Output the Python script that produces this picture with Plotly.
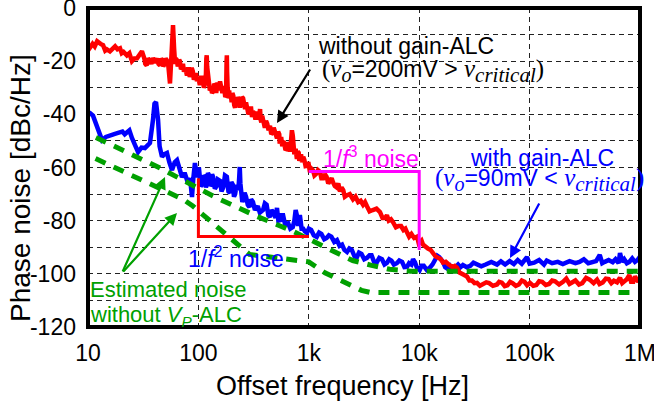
import plotly.graph_objects as go

# ---------------- data ----------------
red_f = [10, 10.4, 11, 11.5, 12.1, 13, 13.7, 14.3, 14.8, 15.8, 16.7, 17.6, 18.5, 19.5, 20.2, 21, 22.5, 23.7,
         25, 26.3, 27.8, 29, 30.8, 32.4, 33, 34, 35, 36, 37.5, 38.8, 40, 41, 42.5, 43.5, 44.9, 46, 47, 48,
         49.5, 50.5, 51.9, 53.5, 55.3, 56.5, 57.5, 58.9, 60.2, 61.5,
         62.5, 64, 65, 66, 67, 68, 69.5, 71, 72.5, 74, 76, 78.8, 80.5, 82, 83.5, 85, 87, 89, 91, 93, 95, 97,
         100, 103, 104.5, 106, 108, 110, 112, 114, 116, 117, 118, 119, 120, 121, 123, 125, 127, 130, 133,
         136, 139, 142, 145, 149, 153, 157, 161, 165, 168, 172, 175, 178, 180, 181, 182, 184, 188, 190, 193,
         197, 200, 203, 207, 211, 215, 219, 223, 228, 233, 238, 243, 248, 254, 259, 265, 270, 276, 284, 292,
         299, 306, 313, 320, 329, 338, 344, 350, 356, 362, 366, 372, 378, 385, 392, 400, 410, 420, 432, 445,
         457, 470, 481, 493, 504, 515, 527, 540, 545, 550, 562, 575, 588, 600, 615, 630, 645, 660, 675, 690,
         703, 716, 728, 740, 760, 780, 795, 810, 820, 830, 850, 870, 890, 910, 935, 960, 990, 1025,
         1060, 1090, 1125, 1160, 1210, 1262, 1300, 1350, 1400, 1450, 1500, 1560, 1610, 1656, 1720, 1790,
         1850, 1918, 1980, 2050, 2120, 2200, 2350, 2514, 2650, 2800, 2950, 3100, 3230, 3365, 3550, 3800,
         4100, 4413, 4650, 4900, 5100, 5300, 5550, 5793, 6150, 6500, 6850, 7200, 7500, 7755, 8100, 8500,
         9000, 9557, 9900, 10200, 10500, 10820, 11400, 12000, 12700, 13330, 14100, 15000, 15700, 16430,
         17400, 18500, 19300, 20000, 21000, 21990, 23200, 24500, 25800, 27090, 28500, 30000, 31700, 33400,
         35500, 38000, 40500, 43000, 46500, 50700, 53000, 56000, 59500, 63000, 66500, 70000, 75000, 80000,
         85000, 90000, 95000, 100900, 108000, 115000, 122000, 130000, 140000, 150000, 160000, 170000,
         185000, 201000, 215000, 230000, 245000, 260000, 280000, 300000, 325000, 350000, 380000, 408000,
         430000, 460000, 490000, 520000, 550000, 580000, 620000, 659000, 690000, 720000, 760000, 800000,
         830000, 870000, 900000, 930000, 965000, 1000000]
red_db = [-16, -15, -13.5, -14.5, -12.5, -13.5, -14, -16, -15.5, -16.3, -15.2, -14.4, -15.5, -15.1, -17, -16.5,
          -17.8, -17, -20, -19, -18.9, -17.5, -16.3, -19, -21, -21.6, -19, -19.5, -21, -18.9, -20, -20.5, -19,
          -21, -21.6, -19, -19.5, -22, -21, -19, -19.7, -22, -28.4, -22, -14, -6.4, -15, -21,
          -19, -19.7, -22, -21, -19.5, -20, -23, -22.5, -21, -24, -22.5, -25.4, -23, -23, -26, -25, -22.5,
          -23.8, -27, -26, -24.5, -27.5,
          -26, -29, -26.5, -25.5, -28.5, -26.5, -30, -29, -26, -25, -19, -17.8, -22, -24, -28, -27.6, -31,
          -30, -32, -31.4, -28.5, -29, -32, -28, -31, -27.6, -31.5, -32, -29.5, -30.5, -33.5, -33, -20, -17.8,
          -24, -30, -34, -31, -34, -33, -35.5, -32, -33, -36.5, -37.5, -35, -36.7, -33.5, -34.5, -37.5, -36,
          -33.5, -34, -37.5, -38, -35.5, -37, -40, -39, -37, -41, -39, -39.5, -42, -39, -41.5, -42, -40, -38,
          -42, -43, -40.5, -42.8, -44.5, -45, -42.5, -43.5, -46, -44.3, -47.5, -47, -45, -46.6, -49, -49,
          -46.5, -47.5, -51, -50.3, -48.5, -52, -50, -51, -53.5, -53, -50.5, -52, -54, -50, -46, -48, -53,
          -55, -53, -56.8, -54, -54.5, -57.5, -56.8, -55, -58, -56, -57, -59.5, -59.4, -58, -61.7,
          -60.5, -61, -63, -62.5, -61, -61.7, -64, -64, -62.5, -63.5, -66, -65, -64, -65.5, -67, -67.5,
          -66, -69, -67.5, -68.5, -71, -70.5, -70, -72, -71, -73, -72.5, -74, -73, -74.6, -76.5, -76,
          -75.5, -76.8, -79, -79, -78, -80, -79.5, -80.6, -82.5, -82, -82, -83.5, -83, -84.4, -86, -85,
          -86.5, -86, -88.5, -88, -87.5, -89, -90, -90.5, -91, -92, -93.5, -94, -94.5, -95.8,
          -95.5, -96.5, -97, -97.5, -97, -97.7, -99.5, -100, -100.5, -101, -102.5, -102.5, -103.5, -103.4,
          -104.5, -104, -103.2, -103.5, -104.5, -104, -103, -103.3, -104.6, -104.3, -103, -103.5, -104.5, -104,
          -102.5, -103, -104.3, -103.4, -104.5, -104.2, -102.8, -103, -104.2, -103.8, -102.5, -102.8,
          -104, -103, -101.8, -103.8, -103, -102.5, -104, -103.5, -101.5, -102.2, -103.5, -102.2,
          -103.8, -103.2, -101.8, -102, -103.5, -102.6, -103.2, -101.5, -103.5, -103, -102, -100.5,
          -103, -103, -101, -102, -103, -101.5]

blue_f = [10, 10.4, 11.1, 11.7, 12.3, 13.4, 14.5, 15.8, 17, 18.7, 20.5, 21.5, 22.5, 23.7, 25, 26.5, 28.4,
          30.5, 32.8, 35, 36.4, 38.8, 40, 41.3, 42.2, 43.1, 44.5, 46.8, 49, 51.9, 54.5, 57.7, 61, 64, 67, 71,
          75, 80.5, 84, 87.5, 90, 93, 96, 99, 101, 103, 105, 108, 111, 114, 117, 120, 122, 125, 128, 130, 133,
          136, 141, 146, 150, 157, 162, 168, 174, 181, 187, 193, 199, 205, 210, 215, 222, 230, 234, 237, 240,
          245, 250, 254, 262, 270, 280, 290, 300, 312, 325, 345, 360, 385, 400, 415, 430, 445, 460, 480, 500,
          515, 530, 550, 565, 585, 610, 650, 680, 716, 740, 760, 780, 800, 830, 860, 890, 920, 960, 1000,
          1050, 1110, 1180, 1240, 1300, 1380, 1450, 1520, 1600, 1700, 1800, 1900, 2000, 2100, 2220, 2330,
          2450, 2600, 2730, 2850, 3000, 3180, 3365, 3550, 3700, 3900, 4140, 4350, 4600, 4850, 5100, 5350,
          5600, 5900, 6270, 6600, 7000, 7350, 7755, 8100, 8500, 8800, 9150, 9500, 10100, 10500, 11000,
          11700, 12400, 13200, 14000, 14600, 15200, 16430, 17200, 18000, 19000, 20200, 21300, 22500, 23700,
          24900, 27000, 29000, 31000, 33400, 36500, 40000, 45000, 50700, 55000, 60000, 66000, 72000, 78000,
          85000, 94700, 100000, 110000, 122000, 135000, 143000, 160000, 180000, 200000, 230000, 260000,
          283000, 310000, 340000, 370000, 400000, 432000, 455000, 480000, 520000, 566000, 600000, 640000,
          659000, 690000, 720000, 760000, 800000, 850000, 900000, 950000, 1000000]
blue_db = [-39.5, -39.5, -40.5, -43, -45.9, -49.7, -48.5, -47.8, -47.5, -47, -46.5, -47.5, -46.6, -46, -48.9,
           -51, -54.2, -52.5, -52.7, -51.5, -50.8, -42, -36, -35.4, -38, -42, -52, -56, -55, -54.5, -58, -61,
           -58, -57.2, -60, -63.6, -62, -65.8, -64, -71.1, -64, -58.3, -62, -63.6, -60, -63.6, -67, -66.5,
           -63, -63.6, -67.5, -65.8, -62, -63, -67, -66.5, -62.5, -63.6, -68, -67, -64.5, -65, -69, -67.5,
           -63, -63.5, -69, -69.5, -65.5, -66.5, -71, -70, -66.5, -68.5, -64, -59.8, -66, -71, -73, -72.2,
           -69.5, -71, -74, -74.9, -72, -73, -76, -74.5, -77, -76, -73.5, -74, -78, -78.6, -76, -77, -79,
           -75.2, -80, -79.8, -78, -78, -81.5, -81, -83, -82.4, -80, -76, -78, -82, -77.9, -83, -83, -84,
           -84.6, -83, -83.5, -85.5, -86.1, -84.5, -85, -87, -86.5, -85.5, -86, -88, -87.3, -89.5, -89, -91,
           -91.8, -90.5, -91, -93.5, -93.7, -92, -92.5, -94.5, -94, -93, -93, -95.5, -95.6, -94, -94.5, -96.5,
           -95.9, -94.5, -95, -96.5, -96, -95, -95.5, -97.5, -97.4, -96, -96.5, -94.5, -95.6, -97.5, -98.6,
           -97, -97, -98.5, -97.8, -96.5, -95, -93.2, -93.7, -95.5, -97.5, -98, -97, -98.6, -97.5, -96.5,
           -97.5, -96.7, -97.5, -97, -95.8, -96.5, -97.2, -96.5, -95.5, -96.5, -95.3, -96.5, -95.2, -96.3,
           -94.8, -96.2, -93.7, -96.2, -95.8, -94.8, -96.5, -95, -96, -95.5, -96.3, -95.2, -96, -95.5, -94.5,
           -96, -95.5, -95.2, -92.9, -96, -95.5, -94.8, -95.6, -94.5, -96, -92.2, -95.5, -94.5, -96, -95.5,
           -94.2, -95.5, -94.8, -93.5]

est1_f = [8, 10, 45, 147, 340, 720, 1670, 2500, 3700, 5400, 8300, 1000000]
est1_db = [-46, -47.3, -60.2, -71.5, -78.4, -84, -91.5, -95, -96.8, -98.3, -99, -99]
est2_f = [8, 10, 73, 89, 290, 1000, 1400, 2200, 3000, 3600, 1000000]
est2_db = [-53.5, -55.3, -72, -74.5, -92.7, -95.5, -99.6, -103.3, -106.2, -107, -107]

box2_f = [100, 100, 1000]          # 1/f^2 guide
box2_db = [-64, -86, -86]
box3_f = [1000, 10000, 10000]      # 1/f^3 guide
box3_db = [-61.5, -61.5, -91]

x_tickvals = [10, 100, 1000, 10000, 100000, 1000000]
x_ticktext = ["10", "100", "1k", "10k", "100k", "1M"]
y_tickvals = [0, -10, -20, -30, -40, -50, -60, -70, -80, -90, -100, -110, -120]
y_ticktext = ["0", "", "-20", "", "-40", "", "-60", "", "-80", "", "-100", "", "-120"]

# ---------------- figure ----------------
W, H = 654, 404
ML, MR, MT, MB = 88, 14, 8, 77
PW, PH = W - ML - MR, H - MT - MB

def px(x):
    return (x - ML) / PW

def py(y):
    return 1 - (y - MT) / PH

GREEN = "#00A000"
SANS = "Liberation Sans, Arial"
SERIF = "Liberation Serif"

fig = go.Figure()
fig.add_trace(go.Scatter(x=blue_f, y=blue_db, mode="lines", line=dict(color="#0000FF", width=4.5)))
fig.add_trace(go.Scatter(x=red_f, y=red_db, mode="lines", line=dict(color="#FF0000", width=4.5)))
fig.add_trace(go.Scatter(x=est1_f, y=est1_db, mode="lines", line=dict(color=GREEN, width=5, dash="11px,9px")))
fig.add_trace(go.Scatter(x=est2_f, y=est2_db, mode="lines", line=dict(color=GREEN, width=5, dash="11px,9px")))
fig.add_trace(go.Scatter(x=box2_f, y=box2_db, mode="lines", line=dict(color="#FF0000", width=3)))
fig.add_trace(go.Scatter(x=box3_f, y=box3_db, mode="lines", line=dict(color="#FF00FF", width=3)))

fig.update_layout(
    width=W, height=H, showlegend=False,
    margin=dict(l=ML, r=MR, t=MT, b=MB, pad=0, autoexpand=False),
    paper_bgcolor="white", plot_bgcolor="white",
    font=dict(family=SANS, color="black", size=23),
)
fig.update_xaxes(type="log", range=[1, 6], tickvals=x_tickvals, ticktext=x_ticktext,
                 showgrid=True, gridcolor="#222", gridwidth=1, griddash="5px,4px",
                 zeroline=False, showline=False, ticks="", ticklabelstandoff=10, automargin=False,
                 ticklabeloverflow="allow", tickfont=dict(size=23, family=SANS))
fig.update_yaxes(range=[-120, 0], tickvals=y_tickvals, ticktext=y_ticktext,
                 showgrid=True, gridcolor="#222", gridwidth=1, griddash="5px,4px",
                 zeroline=False, showline=False, ticks="", ticklabelstandoff=11, automargin=False,
                 ticklabeloverflow="allow", tickfont=dict(size=23, family=SANS))

fig.add_shape(type="rect", xref="paper", yref="paper", x0=0, x1=1, y0=0, y1=1,
              line=dict(color="black", width=4), layer="above")

def note(text, x, y, color, size=23, **kw):
    fig.add_annotation(text=text, x=px(x), y=py(y), xref="paper", yref="paper",
                       showarrow=False, xanchor=kw.pop("xanchor", "left"), yanchor="middle",
                       font=dict(family=SANS, size=size, color=color), **kw)

def serif(t, size=25):
    return "<span style='font-family:%s;font-size:%dpx'>%s</span>" % (SERIF, size, t)

def crit():
    return serif("<i>v</i>") + "<sub>" + serif("<i>critical</i>", 21) + "</sub>" + serif(")")

def vo():
    return serif("(<i>v</i>") + "<sub>" + serif("<i>o</i>", 20) + "</sub>"

note("without gain-ALC", 316, 46, "black")
note(vo() + "=200mV &gt; " + crit(), 320, 71, "black")
note("1/<i>f</i><sup>3</sup> noise", 321, 157, "#FF00FF")
note("with gain-ALC", 468, 158, "#0000FF")
note(vo() + "=90mV &lt; " + crit(), 433, 180, "#0000FF")
note("1/<i>f</i><sup>2</sup> noise", 186, 257, "#0000FF")
note("Estimated noise", 88, 289, GREEN, size=22)
note("without <i>V</i><sub><i>P</i></sub>-ALC", 88, 316, GREEN, size=22)

note("Offset frequency [Hz]", 342, 386, "black", size=27, xanchor="center")
note("Phase noise [dBc/Hz]", 21, 188, "black", size=28, xanchor="center", textangle=-90)

def arrow(hx, hy, tx, ty, color, width=2.2):
    fig.add_annotation(text="", x=px(hx), y=py(hy), xref="paper", yref="paper",
                       ax=tx - hx, ay=ty - hy, showarrow=True, arrowhead=2, arrowsize=1.1,
                       arrowwidth=width, arrowcolor=color)

arrow(277, 123, 311, 68, "black")
arrow(510, 258, 540, 202, "#0000FF")
arrow(165, 177, 122, 273, GREEN)
arrow(177, 213, 122, 273, GREEN)

fig.write_html("out.html")
